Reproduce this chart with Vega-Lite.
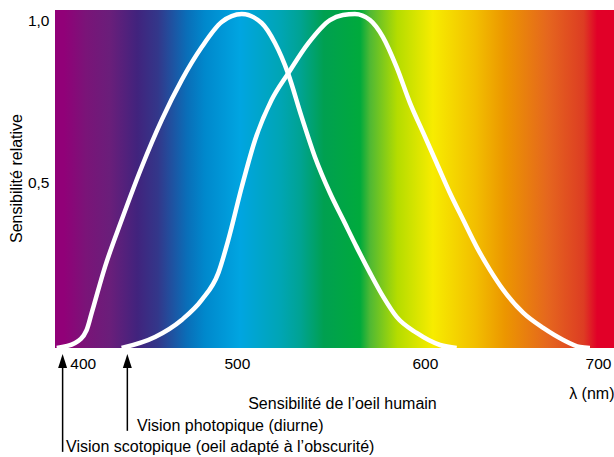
{
  "$schema": "https://vega.github.io/schema/vega-lite/v6.json",
  "width": 559,
  "height": 338,
  "autosize": {"type": "none"},
  "padding": {"left": 55, "top": 10, "right": 0, "bottom": 109},
  "background": "white",
  "config": {
    "view": {"stroke": null},
    "font": "Liberation Sans",
    "text": {"font": "Liberation Sans"}
  },
  "datasets": {
    "spectre": [{"debut": 388, "fin": 711, "bas": 0, "haut": 1.012}],
    "courbes": [
      {"vision": "scotopique", "lambda": 389, "s": 0},
      {"vision": "scotopique", "lambda": 399.6, "s": 0.015},
      {"vision": "scotopique", "lambda": 406.3, "s": 0.054},
      {"vision": "scotopique", "lambda": 409.2, "s": 0.105},
      {"vision": "scotopique", "lambda": 416.9, "s": 0.243},
      {"vision": "scotopique", "lambda": 426.5, "s": 0.383},
      {"vision": "scotopique", "lambda": 438.1, "s": 0.542},
      {"vision": "scotopique", "lambda": 449.7, "s": 0.683},
      {"vision": "scotopique", "lambda": 461.2, "s": 0.802},
      {"vision": "scotopique", "lambda": 472.8, "s": 0.901},
      {"vision": "scotopique", "lambda": 484.3, "s": 0.976},
      {"vision": "scotopique", "lambda": 495.9, "s": 1.0},
      {"vision": "scotopique", "lambda": 507.4, "s": 0.973},
      {"vision": "scotopique", "lambda": 515.1, "s": 0.913},
      {"vision": "scotopique", "lambda": 522.6, "s": 0.823},
      {"vision": "scotopique", "lambda": 530.5, "s": 0.692},
      {"vision": "scotopique", "lambda": 538.2, "s": 0.572},
      {"vision": "scotopique", "lambda": 546.9, "s": 0.464},
      {"vision": "scotopique", "lambda": 554.6, "s": 0.383},
      {"vision": "scotopique", "lambda": 562.3, "s": 0.302},
      {"vision": "scotopique", "lambda": 570.0, "s": 0.225},
      {"vision": "scotopique", "lambda": 577.7, "s": 0.153},
      {"vision": "scotopique", "lambda": 585.4, "s": 0.093},
      {"vision": "scotopique", "lambda": 597.0, "s": 0.045},
      {"vision": "scotopique", "lambda": 610.5, "s": 0.009},
      {"vision": "scotopique", "lambda": 620.1, "s": 0},
      {"vision": "photopique", "lambda": 426.5, "s": 0},
      {"vision": "photopique", "lambda": 445.8, "s": 0.033},
      {"vision": "photopique", "lambda": 461.2, "s": 0.084},
      {"vision": "photopique", "lambda": 472.8, "s": 0.144},
      {"vision": "photopique", "lambda": 482.4, "s": 0.225},
      {"vision": "photopique", "lambda": 488.1, "s": 0.323},
      {"vision": "photopique", "lambda": 495.9, "s": 0.482},
      {"vision": "photopique", "lambda": 503.6, "s": 0.623},
      {"vision": "photopique", "lambda": 513.2, "s": 0.743},
      {"vision": "photopique", "lambda": 522.8, "s": 0.823},
      {"vision": "photopique", "lambda": 534.4, "s": 0.913},
      {"vision": "photopique", "lambda": 546.9, "s": 0.982},
      {"vision": "photopique", "lambda": 554.4, "s": 0.997},
      {"vision": "photopique", "lambda": 561.3, "s": 1.0},
      {"vision": "photopique", "lambda": 570.0, "s": 0.982},
      {"vision": "photopique", "lambda": 577.5, "s": 0.931},
      {"vision": "photopique", "lambda": 585.4, "s": 0.841},
      {"vision": "photopique", "lambda": 593.1, "s": 0.734},
      {"vision": "photopique", "lambda": 600.8, "s": 0.644},
      {"vision": "photopique", "lambda": 608.5, "s": 0.554},
      {"vision": "photopique", "lambda": 616.2, "s": 0.464},
      {"vision": "photopique", "lambda": 623.9, "s": 0.383},
      {"vision": "photopique", "lambda": 631.7, "s": 0.302},
      {"vision": "photopique", "lambda": 639.3, "s": 0.234},
      {"vision": "photopique", "lambda": 647.0, "s": 0.174},
      {"vision": "photopique", "lambda": 658.6, "s": 0.105},
      {"vision": "photopique", "lambda": 670.1, "s": 0.060},
      {"vision": "photopique", "lambda": 681.7, "s": 0.024},
      {"vision": "photopique", "lambda": 691.3, "s": 0.003},
      {"vision": "photopique", "lambda": 697.1, "s": 0}
    ],
    "fleches": [
      {"texte": "Vision scotopique (oeil adapté à l’obscurité)", "lambda": 392.4, "lambda_texte": 394.4, "pointe": -0.018, "depart": -0.05, "bas": -0.311},
      {"texte": "Vision photopique (diurne)", "lambda": 429.8, "lambda_texte": 435.4, "pointe": -0.018, "depart": -0.05, "bas": -0.248}
    ],
    "legende": [{"texte": "Sensibilité de l’oeil humain", "lambda": 554.1, "s": -0.168}]
  },
  "layer": [
    {
      "data": {"name": "spectre"},
      "mark": {
        "type": "rect",
        "fill": {
          "gradient": "linear",
          "x1": 0, "y1": 0, "x2": 1, "y2": 0,
          "stops": [
            {"offset": 0, "color": "#910078"},
            {"offset": 0.016, "color": "#910078"},
            {"offset": 0.055, "color": "#7a1478"},
            {"offset": 0.098, "color": "#6a1e7a"},
            {"offset": 0.147, "color": "#41237d"},
            {"offset": 0.184, "color": "#33378a"},
            {"offset": 0.236, "color": "#0a6eb8"},
            {"offset": 0.268, "color": "#0088cc"},
            {"offset": 0.331, "color": "#00a5e1"},
            {"offset": 0.404, "color": "#00a5b4"},
            {"offset": 0.438, "color": "#00a394"},
            {"offset": 0.481, "color": "#00a050"},
            {"offset": 0.546, "color": "#00aa3c"},
            {"offset": 0.564, "color": "#50b933"},
            {"offset": 0.612, "color": "#b4dc00"},
            {"offset": 0.676, "color": "#f7ec00"},
            {"offset": 0.753, "color": "#f2be00"},
            {"offset": 0.805, "color": "#ec9600"},
            {"offset": 0.882, "color": "#e5661e"},
            {"offset": 0.946, "color": "#dd3c23"},
            {"offset": 0.97, "color": "#e10028"},
            {"offset": 1, "color": "#e10028"}
          ]
        }
      },
      "encoding": {
        "x": {
          "field": "debut", "type": "quantitative",
          "scale": {"domain": [388, 711], "nice": false, "zero": false},
          "axis": {
            "title": "λ (nm)",
            "values": [400, 500, 600, 700],
            "ticks": false, "domain": false, "grid": false,
            "labelPadding": 8, "labelFontSize": 15.5, "labelColor": "black",
            "labelFont": "Liberation Sans",
            "labelOffset": {"condition": [
              {"test": "datum.value === 400", "value": 7},
              {"test": "datum.value === 500", "value": -12},
              {"test": "datum.value === 600", "value": 3}
            ], "value": 3},
            "titleFontSize": 16, "titleFontWeight": "normal", "titleColor": "black",
            "titleFont": "Liberation Sans",
            "titleX": 559, "titleY": 45, "titleAlign": "right", "titleAnchor": "end", "titleBaseline": "middle"
          }
        },
        "x2": {"field": "fin"},
        "y": {
          "field": "bas", "type": "quantitative",
          "scale": {"domain": [0, 1.012], "nice": false, "zero": false},
          "axis": {
            "title": "Sensibilité relative",
            "values": [0.5, 1],
            "labelExpr": "replace(format(datum.value, '.1f'), '.', ',')",
            "ticks": false, "domain": false, "grid": false,
            "labelPadding": 6, "labelFontSize": 15.5, "labelColor": "black",
            "labelFont": "Liberation Sans",
            "labelOffset": {"condition": {"test": "datum.value === 1", "value": 6}, "value": 1},
            "titleFontSize": 16, "titleFontWeight": "normal", "titleColor": "black",
            "titleFont": "Liberation Sans",
            "titleX": -34, "titleY": 168, "titleAngle": -90, "titleAlign": "center", "titleBaseline": "alphabetic"
          }
        },
        "y2": {"field": "haut"}
      }
    },
    {
      "data": {"name": "courbes"},
      "mark": {"type": "line", "stroke": "white", "strokeWidth": 4.5, "interpolate": "monotone"},
      "encoding": {
        "x": {"field": "lambda", "type": "quantitative", "scale": {"domain": [388, 711], "nice": false, "zero": false}},
        "y": {"field": "s", "type": "quantitative", "scale": {"domain": [0, 1.012], "nice": false, "zero": false}},
        "detail": {"field": "vision"}
      }
    },
    {
      "data": {"name": "fleches"},
      "mark": {"type": "rule", "stroke": "black", "strokeWidth": 1.5},
      "encoding": {
        "x": {"field": "lambda", "type": "quantitative", "scale": {"domain": [388, 711], "nice": false, "zero": false}},
        "y": {"field": "depart", "type": "quantitative", "scale": {"domain": [0, 1.012], "nice": false, "zero": false}},
        "y2": {"field": "bas"}
      }
    },
    {
      "data": {"name": "fleches"},
      "mark": {"type": "point", "shape": "M0,0L0.64,2L-0.64,2Z", "filled": true, "color": "black", "size": 196, "opacity": 1},
      "encoding": {
        "x": {"field": "lambda", "type": "quantitative", "scale": {"domain": [388, 711], "nice": false, "zero": false}},
        "y": {"field": "pointe", "type": "quantitative", "scale": {"domain": [0, 1.012], "nice": false, "zero": false}}
      }
    },
    {
      "data": {"name": "fleches"},
      "mark": {"type": "text", "align": "left", "baseline": "alphabetic", "fontSize": 16, "color": "black", "font": "Liberation Sans"},
      "encoding": {
        "x": {"field": "lambda_texte", "type": "quantitative", "scale": {"domain": [388, 711], "nice": false, "zero": false}},
        "y": {"field": "bas", "type": "quantitative", "scale": {"domain": [0, 1.012], "nice": false, "zero": false}},
        "text": {"field": "texte"}
      }
    },
    {
      "data": {"name": "legende"},
      "mark": {"type": "text", "align": "center", "baseline": "middle", "fontSize": 16, "color": "black", "font": "Liberation Sans"},
      "encoding": {
        "x": {"field": "lambda", "type": "quantitative", "scale": {"domain": [388, 711], "nice": false, "zero": false}},
        "y": {"field": "s", "type": "quantitative", "scale": {"domain": [0, 1.012], "nice": false, "zero": false}},
        "text": {"field": "texte"}
      }
    }
  ]
}
